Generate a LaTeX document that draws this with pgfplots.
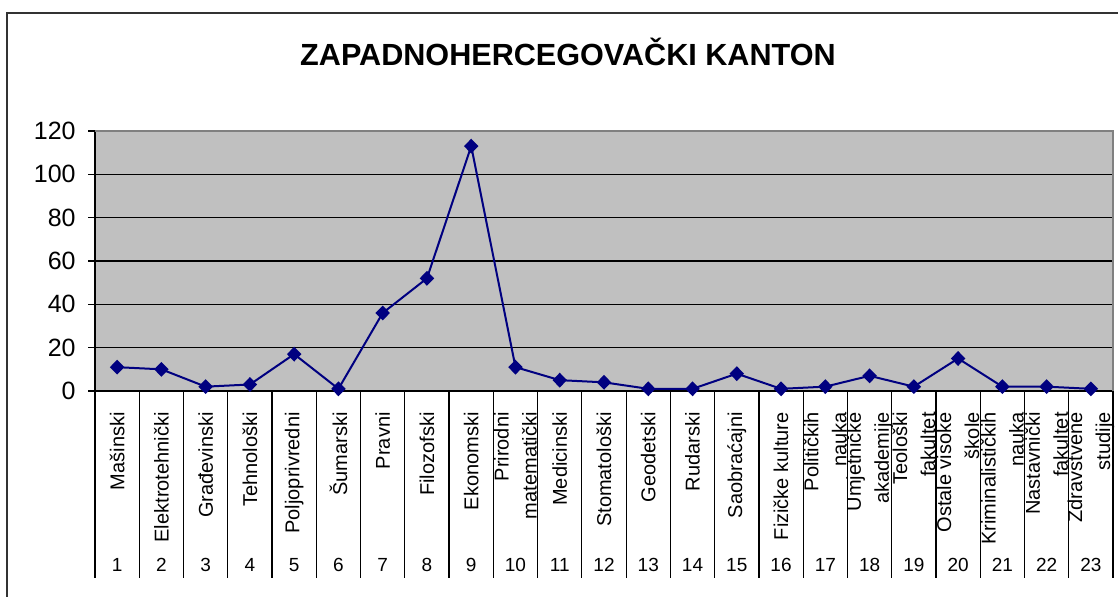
\documentclass[border=0pt]{standalone}
\usepackage{fontspec}
\setmainfont{Liberation Sans}
\usepackage{pgfplots}
\pgfplotsset{compat=1.18}

\definecolor{plotgray}{HTML}{C0C0C0}
\definecolor{bordergray}{HTML}{808080}
\definecolor{navyline}{HTML}{000080}

\begin{document}
\begin{tikzpicture}
% page: 1118x597 px at 0.5pt per px
\path[use as bounding box] (0,0) rectangle (559pt,298.5pt);
\clip (0,0) rectangle (559pt,298.5pt);
\draw[line width=1pt, black!80] (3.5pt,-10pt) rectangle (580pt,292pt);
\node[font=\fontsize{15.3}{18}\selectfont\bfseries] at (284pt,272.5pt) {ZAPADNOHERCEGOVAČKI KANTON};

\begin{axis}[
    at={(47.5pt,103pt)}, anchor=south west,
    scale only axis, width=509pt, height=130pt,
    xmin=0.5, xmax=23.5, ymin=0, ymax=120,
    clip=false,
    axis lines*=left,
    axis line style={black, line width=0.7pt},
    axis background/.style={fill=plotgray},
    ymajorgrids=true,
    grid style={black, line width=0.6pt},
    ytick={0,20,...,120},
    tick align=outside,
    major tick length=3.5pt,
    ytick style={black, line width=0.6pt},
    xtick={1,...,23},
    xtick style={draw=none},
    /pgf/number format/assume math mode=true,
    yticklabel style={font=\fontsize{12.5}{15}\selectfont, inner sep=0pt, xshift=-6pt},
    xticklabels={Mašinski, Elektrotehnički, Građevinski, Tehnološki,
        Poljoprivredni, Šumarski, Pravni, Filozofski, Ekonomski,
        {Prirodni\\matematički}, Medicinski, Stomatološki, Geodetski,
        Rudarski, Saobraćajni, Fizičke kulture, {Političkih\\nauka},
        {Umjetničke\\akademije}, {Teološki\\fakultet}, {Ostale visoke\\škole},
        {Kriminalističkih\\nauka}, {Nastavnički\\fakultet}, {Zdravstvene\\studije}},
    xticklabel style={font=\fontsize{10}{14}\selectfont, yshift=-7pt,
        rotate=90, anchor=east, align=right, inner sep=0pt},
]
\addplot[navyline, line width=1pt, mark=diamond*, mark size=3pt,
    mark options={fill=navyline, xscale=1.3}] coordinates {
    (1,11) (2,10) (3,2) (4,3) (5,17) (6,1) (7,36) (8,52) (9,113)
    (10,11) (11,5) (12,4) (13,1) (14,1) (15,8) (16,1) (17,2) (18,7)
    (19,2) (20,15) (21,2) (22,2) (23,1)
};
% table lines below the plot area
\pgfplotsinvokeforeach{0,...,23}{
    \draw[black, line width=0.6pt] (axis cs:#1.5,0) -- ++(0pt,-93.5pt);
}
\pgfplotsinvokeforeach{1,...,23}{
    \node[font=\fontsize{9.5}{11}\selectfont, anchor=base, yshift=-90.5pt] at (axis cs:#1,0) {#1};
}
\draw[bordergray, line width=1pt] (rel axis cs:0,1) -- (rel axis cs:1,1) -- (rel axis cs:1,0);
\end{axis}
\end{tikzpicture}
\end{document}
